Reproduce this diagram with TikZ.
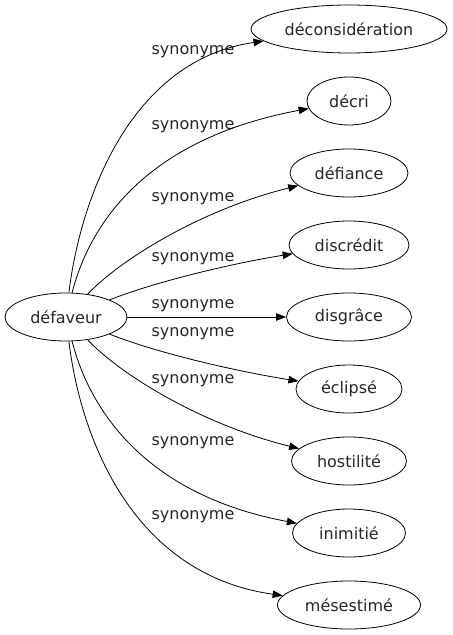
\documentclass[tikz,border=0pt]{standalone}
\usepackage{fontspec}
\setmainfont{DejaVu Sans}
\usetikzlibrary{shapes.geometric,arrows.meta}
\begin{document}
\begin{tikzpicture}[x=1bp,y=-1bp,
  every node/.style={font=\fontsize{16bp}{19bp}\selectfont, text=black!85},
  word/.style={draw, ellipse, inner sep=0pt, minimum height=48bp, line width=0.8bp, text=black!85},
  lbl/.style={inner sep=0pt, anchor=center},
  edge/.style={draw, line width=0.8bp, -{Triangle[length=10bp,width=7.5bp]}}]
\useasboundingbox (0,0) rectangle (453,635);
\node[word, minimum width=122bp] (src) at (66,317) {défaveur};
\node[word, minimum width=196bp] (t1) at (349,29) {déconsidération};
\node[word, minimum width=84bp] (t2) at (349,101) {décri};
\node[word, minimum width=118bp] (t3) at (349,173) {défiance};
\node[word, minimum width=120bp] (t4) at (349,245) {discrédit};
\node[word, minimum width=125bp] (t5) at (349,317) {disgrâce};
\node[word, minimum width=106bp] (t6) at (349,389) {éclipsé};
\node[word, minimum width=115bp] (t7) at (349,461) {hostilité};
\node[word, minimum width=113bp] (t8) at (349,533) {inimitié};
\node[word, minimum width=143bp] (t9) at (349,605) {mésestimé};
\node[lbl] (l1) at (193,52) {synonyme};
\node[lbl] (l2) at (193,127) {synonyme};
\node[lbl] (l3) at (193,199) {synonyme};
\node[lbl] (l4) at (193,259) {synonyme};
\node[lbl] (l5) at (193,306) {synonyme};
\node[lbl] (l6) at (193,334) {synonyme};
\node[lbl] (l7) at (193,381) {synonyme};
\node[lbl] (l8) at (193,443) {synonyme};
\node[lbl] (l9) at (193,517) {synonyme};
\draw[edge] (src) .. controls (80,200) and (130,60) .. (t1);
\draw[edge] (src) .. controls (88,230) and (140,140) .. (t2);
\draw[edge] (src) .. controls (120,260) and (200,210) .. (t3);
\draw[edge] (src) .. controls (160,280) and (240,262) .. (t4);
\draw[edge] (src) -- (t5);
\draw[edge] (src) .. controls (160,354) and (240,372) .. (t6);
\draw[edge] (src) .. controls (120,374) and (200,424) .. (t7);
\draw[edge] (src) .. controls (88,404) and (140,494) .. (t8);
\draw[edge] (src) .. controls (80,434) and (130,574) .. (t9);
\end{tikzpicture}
\end{document}
